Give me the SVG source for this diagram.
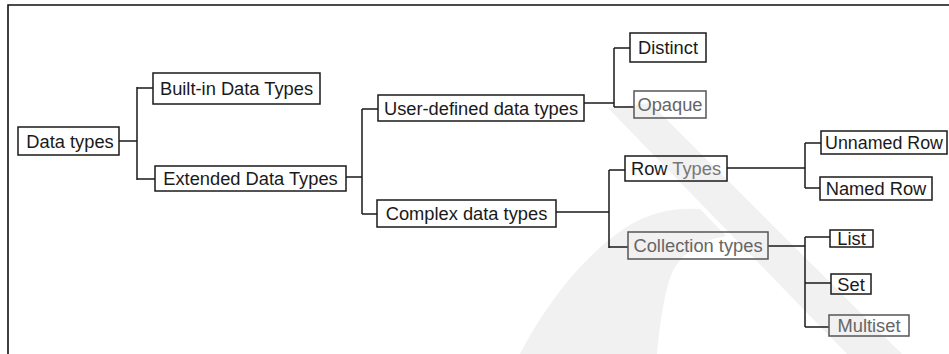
<svg xmlns="http://www.w3.org/2000/svg" width="949" height="354" viewBox="0 0 949 354">
<style>
.bg{fill:#ffffff}
.wm{fill:#f1f1f1}
.frame{fill:none;stroke:#111;stroke-width:1.6}
.box{fill:none;stroke:#1a1a1a;stroke-width:1.5}
.box.g{stroke:#555}
.lbl{font-family:"Liberation Sans",Arial,sans-serif;font-size:18.3px;fill:#1a1a1a;text-anchor:middle}
.lbl.g{fill:#666}
.conn path{fill:none;stroke:#1a1a1a;stroke-width:1.5}
</style>
<rect class="bg" x="0" y="0" width="949" height="354"/>
<g id="watermark">
<path class="wm" d="M608,108 L650,103 L902,354 L847,354 Z"/>
<path class="wm" d="M520,354 C548,300 585,255 625,228 C648,213 672,207 700,209 L726,236 C700,240 678,255 670,278 C663,300 659,330 657,354 Z"/>
</g>
<path class="frame" d="M8,354 L8,5 L949,5"/>
<g class="conn" id="connectors">
<path d="M119,141 H137 M137,87 V180 M137,88 H153 M137,179 H155"/>
<path d="M346,177 H362 M362,109 V214 M362,109 H378 M362,214 H377"/>
<path d="M584,103 H614 M614,48 V107 M614,48 H630 M614,107 H634"/>
<path d="M556,212 H609 M609,170 V248 M609,170 H625 M609,247 H628"/>
<path d="M727,168 H805 M805,143 V188 M805,143 H821 M805,188 H820"/>
<path d="M768,246 H805 M805,237 V327 M805,237 H830 M805,283 H831 M805,327 H829"/>
</g>
<g id="n-data-types"><rect class="box" x="18" y="127" width="101" height="28"/><text class="lbl" x="70" y="148">Data types</text></g>
<g id="n-builtin"><rect class="box" x="153" y="73" width="167" height="31"/><text class="lbl" x="236.5" y="95">Built-in Data Types</text></g>
<g id="n-extended"><rect class="box" x="155" y="166" width="191" height="25"/><text class="lbl" x="250.5" y="185">Extended Data Types</text></g>
<g id="n-userdefined"><rect class="box" x="378" y="95" width="206" height="26"/><text class="lbl" x="481" y="114.5">User-defined data types</text></g>
<g id="n-complex"><rect class="box" x="377" y="200" width="179" height="27"/><text class="lbl" x="466.5" y="220">Complex data types</text></g>
<g id="n-distinct"><rect class="box" x="630" y="33" width="76" height="29"/><text class="lbl" x="668" y="54">Distinct</text></g>
<g id="n-opaque"><rect class="box g" x="634" y="91" width="72" height="27"/><text class="lbl g" x="670" y="111">Opaque</text></g>
<g id="n-rowtypes"><rect class="box" x="625" y="156" width="102" height="25"/><text class="lbl" x="676" y="175">Row <tspan fill="#777">Types</tspan></text></g>
<g id="n-collection"><rect class="box g" x="628" y="232" width="140" height="27"/><text class="lbl g" x="698" y="252">Collection types</text></g>
<g id="n-unnamed"><rect class="box" x="821" y="131" width="126" height="23"/><text class="lbl" x="884" y="149" textLength="118" lengthAdjust="spacingAndGlyphs">Unnamed Row</text></g>
<g id="n-named"><rect class="box" x="820" y="177" width="112" height="23"/><text class="lbl" x="876" y="195">Named Row</text></g>
<g id="n-list"><rect class="box" x="830" y="230" width="43" height="17"/><text class="lbl" x="851.5" y="245">List</text></g>
<g id="n-set"><rect class="box" x="831" y="274" width="40" height="20"/><text class="lbl" x="851" y="291">Set</text></g>
<g id="n-multiset"><rect class="box g" x="829" y="315" width="80" height="21"/><text class="lbl g" x="869" y="332">Multiset</text></g>
</svg>
